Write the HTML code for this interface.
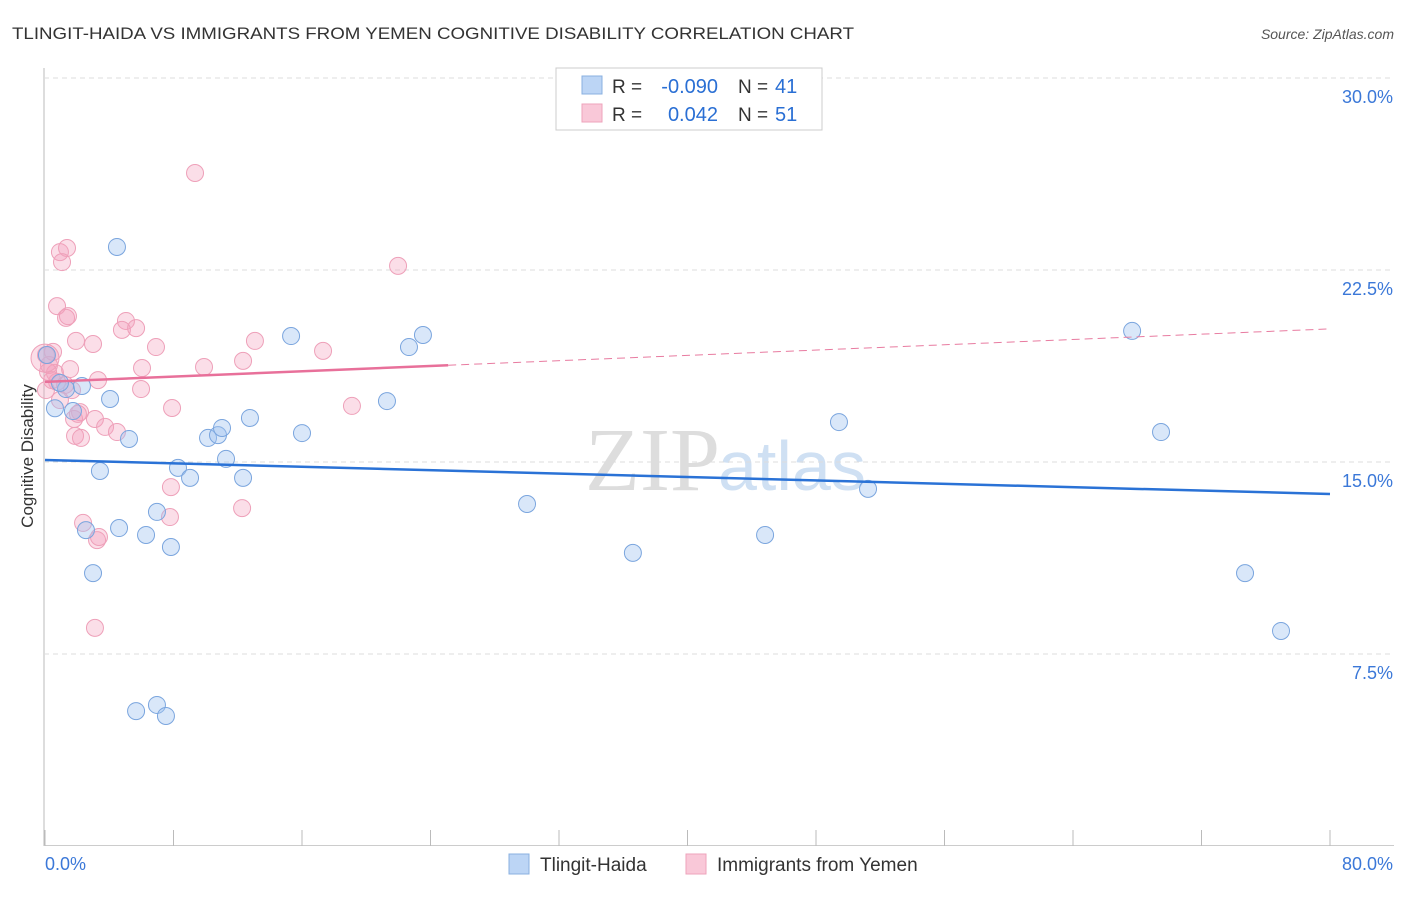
<!DOCTYPE html>
<html><head><meta charset="utf-8"><style>
body{margin:0;background:#fff;font-family:"Liberation Sans",sans-serif;}
</style></head><body>
<svg width="1406" height="892" xmlns="http://www.w3.org/2000/svg" style="font-family:'Liberation Sans',sans-serif">
<text x="12" y="39" font-size="17" fill="#333" textLength="842" lengthAdjust="spacingAndGlyphs">TLINGIT-HAIDA VS IMMIGRANTS FROM YEMEN COGNITIVE DISABILITY CORRELATION CHART</text>
<text x="1394" y="39" font-size="14" fill="#555" font-style="italic" text-anchor="end">Source: ZipAtlas.com</text>
<text x="720" y="490" font-size="90" fill="#ddd" text-anchor="end" font-family="Liberation Serif">ZIP</text>
<text x="718" y="490" font-size="70" fill="#cfe0f3">atlas</text>
<g id="grid"></g>
<g id="marks"></g>
<text x="33" y="456" font-size="17" fill="#333" text-anchor="middle" transform="rotate(-90 33 456)">Cognitive Disability</text>
<g>
<rect x="556" y="68" width="266" height="62" fill="#fff" stroke="#ccc"/>
<rect x="582" y="76" width="20" height="18" fill="#bcd5f5" stroke="#8ab0e0"/>
<rect x="582" y="104" width="20" height="18" fill="#f9c8d8" stroke="#eea3bb"/>
<text x="612" y="93" font-size="19" fill="#333">R =</text>
<text x="718" y="93" font-size="20" fill="#2a6fd4" text-anchor="end">-0.090</text>
<text x="738" y="93" font-size="19" fill="#333">N =</text>
<text x="775" y="93" font-size="20" fill="#2a6fd4">41</text>
<text x="612" y="121" font-size="19" fill="#333">R =</text>
<text x="718" y="121" font-size="20" fill="#2a6fd4" text-anchor="end">0.042</text>
<text x="738" y="121" font-size="19" fill="#333">N =</text>
<text x="775" y="121" font-size="20" fill="#2a6fd4">51</text>
</g>
<g>
<rect x="509" y="854" width="20" height="20" fill="#bcd5f5" stroke="#8ab0e0"/>
<text x="540" y="871" font-size="19" fill="#333">Tlingit-Haida</text>
<rect x="686" y="854" width="20" height="20" fill="#f9c8d8" stroke="#eea3bb"/>
<text x="717" y="871" font-size="19" fill="#333">Immigrants from Yemen</text>
</g>
</svg>
<script>
const yTicks=[7.5,15,22.5,30];
const yTickLabels=["7.5%","15.0%","22.5%","30.0%"];
const blueX=[4.48,0.62,1.31,2.30,4.05,1.74,5.23,3.42,2.55,4.61,2.99,6.29,6.97,7.84,5.67,6.97,7.53,8.28,9.03,10.15,10.77,11.02,11.27,12.33,12.76,15.32,16.0,21.29,22.66,23.53,30.01,36.6,44.83,49.43,51.24,67.68,69.48,74.71,76.95,0.12,0.93];
const blueY=[23.4,17.1,17.85,17.97,17.46,16.99,15.9,14.65,12.34,12.42,10.66,12.15,13.05,11.68,5.27,5.51,5.08,14.77,14.38,15.94,16.05,16.33,15.12,14.38,16.72,19.92,16.13,17.38,19.49,19.96,13.36,11.45,12.15,16.56,13.95,20.12,16.17,10.66,8.4,19.18,18.09];
const pinkX=[9.34,0.93,1.37,1.06,0.75,1.31,1.43,5.04,4.79,5.67,1.93,2.99,6.91,0.06,0.25,0.62,1.56,3.30,6.04,9.9,12.33,13.07,17.31,21.98,19.11,7.91,5.98,0.75,1.68,2.18,3.11,1.81,3.74,4.48,1.87,2.24,7.84,12.27,7.78,2.37,3.24,3.36,3.11,0.44,0.06,0.93,0.19,0.5,0,1.25,2.05];
const pinkY=[26.29,23.2,23.36,22.81,21.09,20.63,20.7,20.51,20.16,20.23,19.73,19.61,19.49,19.18,18.79,18.48,18.63,18.2,18.67,18.71,18.95,19.73,19.34,22.66,17.19,17.11,17.85,18.13,17.81,16.95,16.68,16.68,16.37,16.17,16.02,15.94,14.02,13.2,12.85,12.62,11.95,12.07,8.52,18.2,17.81,17.42,18.52,19.3,19.06,18.01,16.88];
const blueTrend=[15.08,13.75];
const pinkTrend=[18.13,20.2];
const pinkSolidEnd=25.1;
const X=v=>45+v/80*1285, Y=v=>846-v*25.6;
const NS="http://www.w3.org/2000/svg";
const grid=document.getElementById('grid'), marks=document.getElementById('marks');
function mk(tag,attrs,parent){const e=document.createElementNS(NS,tag);for(const k in attrs)e.setAttribute(k,attrs[k]);parent.appendChild(e);return e;}
let l=mk('line',{x1:44,y1:68,x2:44,y2:846,stroke:'#bbb'},grid);


l=mk('line',{x1:44,y1:845.5,x2:1394,y2:845.5,stroke:'#ccc'},grid);


for(let i=0;i<=10;i++){const t=mk('line',{x1:X(i*8),y1:830,x2:X(i*8),y2:846,stroke:'#bbb'},grid);

}
yTicks.forEach((v,i)=>{const g=mk('line',{x1:44,y1:Y(v),x2:1394,y2:Y(v),stroke:'#ddd','stroke-dasharray':'5,4'},grid);


const t=mk('text',{x:1393,y:Y(v)+25,'font-size':18,fill:'#3b78d8','text-anchor':'end'},grid);t.textContent=yTickLabels[i];

});
let t0=mk('text',{x:45,y:870,'font-size':18,fill:'#3b78d8'},grid);t0.textContent='0.0%';


t0=mk('text',{x:1393,y:870,'font-size':18,fill:'#3b78d8','text-anchor':'end'},grid);t0.textContent='80.0%';


pinkX.forEach((x,i)=>{const c=mk('circle',{cx:X(x),cy:Y(pinkY[i]),r:(x===0?14:8.5),fill:'rgba(244,160,188,0.35)',stroke:'#eea0b9','stroke-width':1},marks);

});
blueX.forEach((x,i)=>{const c=mk('circle',{cx:X(x),cy:Y(blueY[i]),r:8.5,fill:'rgba(160,196,240,0.4)',stroke:'#7aa5de','stroke-width':1},marks);

});
const pAt=v=>pinkTrend[0]+(pinkTrend[1]-pinkTrend[0])*v/80;
l=mk('line',{x1:X(pinkSolidEnd),y1:Y(pAt(pinkSolidEnd)),x2:X(80),y2:Y(pinkTrend[1]),stroke:'#e87ba0','stroke-width':1,'stroke-dasharray':'8,5'},marks);


l=mk('line',{x1:X(0),y1:Y(pinkTrend[0]),x2:X(pinkSolidEnd),y2:Y(pAt(pinkSolidEnd)),stroke:'#e8709a','stroke-width':2.5},marks);


l=mk('line',{x1:X(0),y1:Y(blueTrend[0]),x2:X(80),y2:Y(blueTrend[1]),stroke:'#2a72d6','stroke-width':2.5},marks);


</script>
</body></html>
